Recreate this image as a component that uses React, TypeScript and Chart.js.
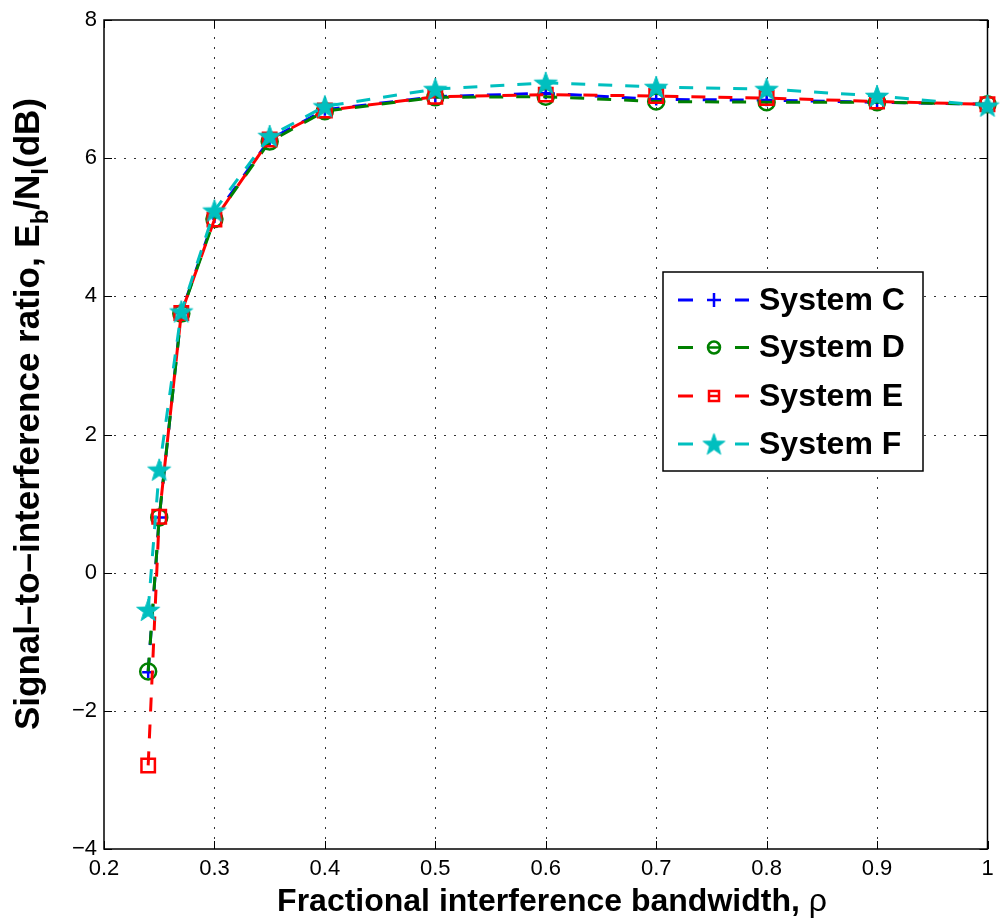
import React, { useEffect, useRef } from "react";
import { Chart, registerables } from "chart.js";

Chart.register(...registerables);

// ---- data ----
const rho = [0.24, 0.25, 0.27, 0.3, 0.35, 0.4, 0.5, 0.6, 0.7, 0.8, 0.9, 1.0];
const systemC = [-1.44, 0.8, 3.76, 5.15, 6.27, 6.7, 6.89, 6.94, 6.85, 6.84, 6.81, 6.78];
const systemD = [-1.43, 0.8, 3.75, 5.12, 6.24, 6.68, 6.88, 6.89, 6.82, 6.81, 6.81, 6.78];
const systemE = [-2.79, 0.81, 3.76, 5.11, 6.27, 6.69, 6.89, 6.92, 6.9, 6.87, 6.82, 6.78];
const systemF = [-0.54, 1.49, 3.78, 5.24, 6.32, 6.75, 7.0, 7.09, 7.03, 7.0, 6.9, 6.76];
const seriesNames = ["System C", "System D", "System E", "System F"];
const xTicks = [0.2, 0.3, 0.4, 0.5, 0.6, 0.7, 0.8, 0.9, 1];
const yTicks = [-4, -2, 0, 2, 4, 6, 8];
const xTitle = "Fractional interference bandwidth, ";
const xTitleSymbol = "\u03C1";
const yTitleMain = "Signal\u2013to\u2013interference ratio, E";
const yTitleSub1 = "b";
const yTitleMid = "/N";
const yTitleSub2 = "I";
const yTitleEnd = "(dB)";

const BLUE = "#0000FF";
const GREEN = "#008000";
const RED = "#FF0000";
const CYAN = "#00BFBF";
const FONT = '"Liberation Sans", Arial, Helvetica, sans-serif';
const DASH = [14, 13];

function makeStar(outer: number, color: string): HTMLCanvasElement {
  const size = Math.ceil(outer * 2 + 4);
  const c = document.createElement("canvas");
  c.width = size;
  c.height = size;
  const ctx = c.getContext("2d")!;
  const cx = size / 2;
  const cy = size / 2 + outer * 0.08;
  const inner = outer * 0.4;
  ctx.beginPath();
  for (let i = 0; i < 10; i++) {
    const r = i % 2 === 0 ? outer : inner;
    const a = -Math.PI / 2 + (i * Math.PI) / 5;
    const px = cx + r * Math.cos(a);
    const py = cy + r * Math.sin(a);
    if (i === 0) ctx.moveTo(px, py);
    else ctx.lineTo(px, py);
  }
  ctx.closePath();
  ctx.fillStyle = color;
  ctx.fill();
  ctx.strokeStyle = color;
  ctx.lineWidth = 1;
  ctx.stroke();
  return c;
}

function drawMarker(ctx: CanvasRenderingContext2D, kind: string, x: number, y: number, color: string, star?: HTMLCanvasElement) {
  ctx.save();
  ctx.setLineDash([]);
  ctx.strokeStyle = color;
  ctx.lineWidth = 2.5;
  if (kind === "cross") {
    ctx.beginPath();
    ctx.moveTo(x - 7, y);
    ctx.lineTo(x + 7, y);
    ctx.moveTo(x, y - 7);
    ctx.lineTo(x, y + 7);
    ctx.stroke();
  } else if (kind === "circle") {
    ctx.beginPath();
    ctx.arc(x, y, 6, 0, Math.PI * 2);
    ctx.stroke();
  } else if (kind === "rect") {
    ctx.strokeRect(x - 5, y - 5, 10, 10);
  } else if (kind === "star" && star) {
    ctx.drawImage(star, x - star.width / 2, y - star.height / 2);
  }
  ctx.restore();
}

export default function App() {
  const ref = useRef<HTMLCanvasElement | null>(null);

  useEffect(() => {
    if (!ref.current) return;
    const star = makeStar(12, CYAN);
    const legendStar = makeStar(11.5, CYAN);

    const mk = (vals: number[]) => rho.map((x, i) => ({ x, y: vals[i] }));

    const base = {
      borderWidth: 3,
      borderDash: DASH,
      borderCapStyle: "butt" as const,
      pointBorderWidth: 2.5,
      pointBackgroundColor: "rgba(0,0,0,0)",
      tension: 0,
      clip: false as const,
      fill: false,
    };

    const datasets = [
      { ...base, label: seriesNames[0], data: mk(systemC), borderColor: BLUE, pointBorderColor: BLUE, pointStyle: "cross", pointRadius: 6, order: 3 },
      { ...base, label: seriesNames[1], data: mk(systemD), borderColor: GREEN, pointBorderColor: GREEN, pointStyle: "circle", pointRadius: 8, order: 2 },
      { ...base, label: seriesNames[2], data: mk(systemE), borderColor: RED, pointBorderColor: RED, pointStyle: "rect", pointRadius: 9.5, order: 1 },
      { ...base, label: seriesNames[3], data: mk(systemF), borderColor: CYAN, pointBorderColor: CYAN, pointStyle: star, pointRadius: 12, order: 0 },
    ];

    const frame = {
      id: "frame",
      beforeDatasetsDraw(chart: any) {
        const { ctx, chartArea: a, scales } = chart;
        const xs = scales.x;
        const ys = scales.y;
        ctx.save();
        ctx.strokeStyle = "#333";
        ctx.lineWidth = 1;
        ctx.setLineDash([2, 8]);
        xTicks.forEach((t) => {
          const px = Math.round(xs.getPixelForValue(t)) + 0.5;
          if (px <= a.left + 1 || px >= a.right - 1) return;
          ctx.beginPath();
          ctx.moveTo(px, a.bottom);
          ctx.lineTo(px, a.top);
          ctx.stroke();
        });
        yTicks.forEach((t) => {
          const py = Math.round(ys.getPixelForValue(t)) + 0.5;
          if (py <= a.top + 1 || py >= a.bottom - 1) return;
          ctx.beginPath();
          ctx.moveTo(a.left, py);
          ctx.lineTo(a.right, py);
          ctx.stroke();
        });
        ctx.setLineDash([]);
        ctx.strokeStyle = "#000";
        ctx.lineWidth = 1;
        xTicks.forEach((t) => {
          const px = Math.round(xs.getPixelForValue(t)) + 0.5;
          ctx.beginPath();
          ctx.moveTo(px, a.bottom);
          ctx.lineTo(px, a.bottom - 8);
          ctx.moveTo(px, a.top);
          ctx.lineTo(px, a.top + 8);
          ctx.stroke();
        });
        yTicks.forEach((t) => {
          const py = Math.round(ys.getPixelForValue(t)) + 0.5;
          ctx.beginPath();
          ctx.moveTo(a.left, py);
          ctx.lineTo(a.left + 8, py);
          ctx.moveTo(a.right, py);
          ctx.lineTo(a.right - 8, py);
          ctx.stroke();
        });
        ctx.lineWidth = 1.5;
        ctx.strokeRect(a.left, a.top, a.right - a.left, a.bottom - a.top);
        ctx.restore();
      },
      afterDraw(chart: any) {
        const { ctx } = chart;
        ctx.save();
        ctx.fillStyle = "#000";
        ctx.textBaseline = "alphabetic";
        const boldF = `bold 32px ${FONT}`;
        const normF = `32px ${FONT}`;
        ctx.font = boldF;
        const w1 = ctx.measureText(xTitle).width;
        ctx.font = normF;
        const w2 = ctx.measureText(xTitleSymbol).width;
        const sx = 552 - (w1 + w2) / 2;
        ctx.font = boldF;
        ctx.fillText(xTitle, sx, 911);
        ctx.font = normF;
        ctx.fillText(xTitleSymbol, sx + w1, 911);

        const yMain = `bold 35px ${FONT}`;
        const ySub = `bold 24px ${FONT}`;
        const parts = [
          { t: yTitleMain, f: yMain, dy: 0 },
          { t: yTitleSub1, f: ySub, dy: 9 },
          { t: yTitleMid, f: yMain, dy: 0 },
          { t: yTitleSub2, f: ySub, dy: 9 },
          { t: yTitleEnd, f: yMain, dy: 0 },
        ];
        let total = 0;
        parts.forEach((p) => {
          ctx.font = p.f;
          total += ctx.measureText(p.t).width;
        });
        ctx.save();
        ctx.translate(39, 414);
        ctx.rotate(-Math.PI / 2);
        let cx = -total / 2;
        parts.forEach((p) => {
          ctx.font = p.f;
          ctx.fillText(p.t, cx, p.dy);
          cx += ctx.measureText(p.t).width;
        });
        ctx.restore();

        const lx = 663, ly = 272, lw = 260, lh = 199;
        ctx.fillStyle = "#fff";
        ctx.fillRect(lx, ly, lw, lh);
        ctx.strokeStyle = "#000";
        ctx.lineWidth = 1.5;
        ctx.strokeRect(lx, ly, lw, lh);
        const rows = [300, 347.5, 396, 444];
        const colors = [BLUE, GREEN, RED, CYAN];
        const kinds = ["cross", "circle", "rect", "star"];
        rows.forEach((ry, i) => {
          ctx.strokeStyle = colors[i];
          ctx.lineWidth = 3;
          ctx.beginPath();
          ctx.moveTo(678, ry);
          ctx.lineTo(693, ry);
          ctx.moveTo(735, ry);
          ctx.lineTo(749, ry);
          ctx.stroke();
          if (kinds[i] === "circle" || kinds[i] === "rect") {
            ctx.beginPath();
            ctx.moveTo(709, ry);
            ctx.lineTo(719, ry);
            ctx.lineWidth = 2.5;
            ctx.stroke();
          }
          drawMarker(ctx, kinds[i], 714, ry, colors[i], legendStar);
          ctx.fillStyle = "#000";
          ctx.font = `bold 32px ${FONT}`;
          ctx.textBaseline = "middle";
          ctx.fillText(seriesNames[i], 759, ry + 1);
        });
        ctx.restore();
      },
    };

    const chart = new Chart(ref.current, {
      type: "line",
      data: { datasets: datasets as any },
      options: {
        animation: false,
        responsive: false,
        maintainAspectRatio: false,
        layout: { padding: { top: 20, right: 4, left: 0, bottom: 0 } },
        plugins: { legend: { display: false }, tooltip: { enabled: false }, title: { display: false } },
        scales: {
          x: {
            type: "linear",
            min: 0.2,
            max: 1,
            afterBuildTicks: (s: any) => {
              s.ticks = xTicks.map((v) => ({ value: v }));
            },
            afterFit: (s: any) => {
              s.height = 73;
              s.paddingLeft = 0;
              s.paddingRight = 0;
            },
            grid: { display: false, drawTicks: false },
            border: { display: false },
            ticks: {
              color: "#000",
              padding: 7,
              maxRotation: 0,
              autoSkip: false,
              font: { family: FONT, size: 22 },
              callback: (v: any) => String(Number(v)),
            },
          },
          y: {
            type: "linear",
            min: -4,
            max: 8,
            afterBuildTicks: (s: any) => {
              s.ticks = yTicks.map((v) => ({ value: v }));
            },
            afterFit: (s: any) => {
              s.width = 104;
              s.paddingTop = 0;
              s.paddingBottom = 0;
            },
            grid: { display: false, drawTicks: false },
            border: { display: false },
            ticks: {
              color: "#000",
              padding: 7,
              autoSkip: false,
              font: { family: FONT, size: 22 },
              callback: (v: any) => (Number(v) < 0 ? "\u2212" + Math.abs(Number(v)) : String(v)),
            },
          },
        },
      },
      plugins: [frame],
    });
    return () => chart.destroy();
  }, []);

  return (
    <div style={{ position: "absolute", left: 0, top: 0, width: 1002, height: 922, background: "#fff" }}>
      <canvas ref={ref} width={1002} height={922} />
    </div>
  );
}
